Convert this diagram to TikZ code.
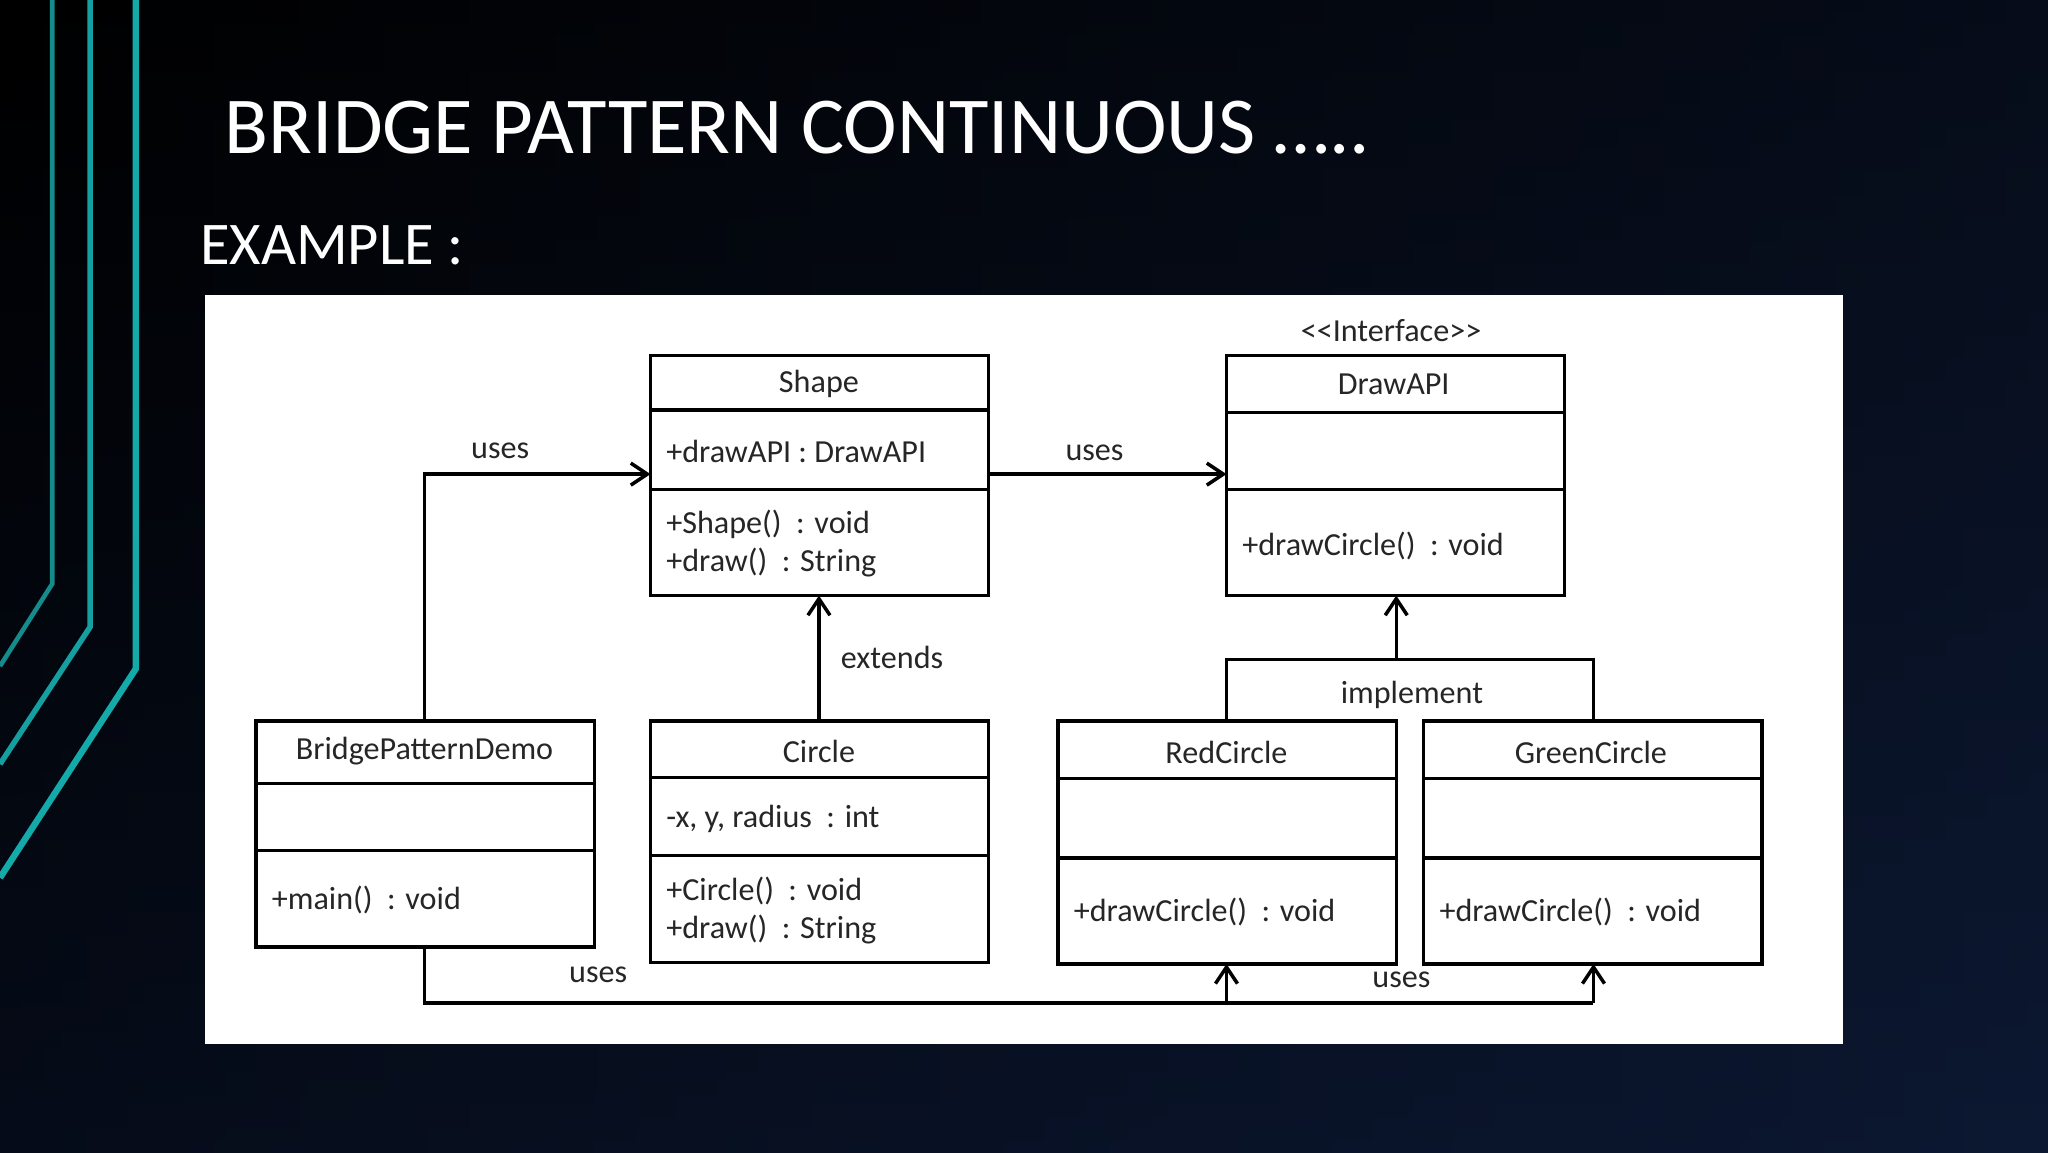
\documentclass[tikz,border=0pt]{standalone}
\usepackage{fontspec}
\setmainfont{Carlito}
\usetikzlibrary{arrows.meta}
\definecolor{navy}{RGB}{12,24,50}
\definecolor{tealA}{RGB}{20,140,140}
\definecolor{tealB}{RGB}{20,160,160}
\definecolor{tealC}{RGB}{20,170,170}
\begin{document}
\begin{tikzpicture}[x=0.5mm,y=-0.5mm,
  cls/.style={draw=black,line width=3.6pt},
  conn/.style={draw=black,line width=3.8pt},
  arr/.style={conn,-{Straight Barb[length=18pt,width=24pt,line width=3.8pt]}},
  txt/.style={font=\fontsize{35pt}{42pt}\selectfont,text=black!85,inner sep=0pt},
  lt/.style={txt,anchor=west,align=left}]
\useasboundingbox (0,0) rectangle (1568,882);
\shade[top color=black,bottom color=navy] (0,0) rectangle (1568,882);
\shade[left color=black,right color=navy,opacity=0.5] (0,0) rectangle (1568,882);
% decorations
\draw[tealA,line width=5pt] (40,0) -- (40,447) -- (0,510);
\draw[tealB,line width=6pt] (69,0) -- (69,480) -- (0,585);
\draw[tealC,line width=7pt] (104,0) -- (104,512) -- (0,672);
\node[anchor=west,text=white,font=\fontsize{88pt}{90pt}\selectfont,inner sep=0pt] (title) at (172,98) {BRIDGE PATTERN CONTINUOUS …..};
\node[anchor=west,text=white,font=\fontsize{66pt}{70pt}\selectfont,inner sep=0pt] (ex) at (153,188) {EXAMPLE :};
\fill[white] (157,226) rectangle (1411,799);
% Shape
\draw[cls] (498,272) rectangle (757,456); \draw[cls] (498,314)--(757,314); \draw[cls] (498,375)--(757,375);
\node[txt] (shape) at (627,294) {Shape};
\node[lt] at (510,346) {+drawAPI : DrawAPI};
\node[lt] at (510,416) {+Shape()\ \ : void\\+draw()\ \ : String};
\coordinate (shL) at (498,363); \coordinate (shR) at (757,363); \coordinate (shB) at (627,456);
% DrawAPI
\draw[cls] (939,272) rectangle (1198,456); \draw[cls] (939,316)--(1198,316); \draw[cls] (939,375)--(1198,375);
\node[txt] (dapi) at (1067,294) {DrawAPI};
\node[txt] at (1065,253) {<{}<Interface>{}>};
\node[lt] at (951,418) {+drawCircle()\ \ : void};
\coordinate (daL) at (939,363); \coordinate (daB) at (1069,456);
% BridgePatternDemo
\draw[cls] (196,552) rectangle (455,725); \draw[cls] (196,600)--(455,600); \draw[cls] (196,651)--(455,651);
\node[txt] (bpd) at (325,575) {BridgePatternDemo};
\node[lt] at (208,689) {+main()\ \ : void};
\coordinate (bT) at (325,552); \coordinate (bB) at (325,725);
% Circle
\draw[cls] (498,552) rectangle (757,737); \draw[cls] (498,595)--(757,595); \draw[cls] (498,655)--(757,655);
\node[txt] (circ) at (627,575) {Circle};
\node[lt] at (510,627) {-x, y, radius\ \ : int};
\node[lt] at (510,697) {+Circle()\ \ : void\\+draw()\ \ : String};
\coordinate (cT) at (627,552);
% RedCircle
\draw[cls] (810,552) rectangle (1069,738); \draw[cls] (810,596)--(1069,596); \draw[cls] (810,657)--(1069,657);
\node[txt] (red) at (939,576) {RedCircle};
\node[lt] at (822,698) {+drawCircle()\ \ : void};
\coordinate (rT) at (939,552); \coordinate (rB) at (939,738);
% GreenCircle
\draw[cls] (1090,552) rectangle (1349,738); \draw[cls] (1090,596)--(1349,596); \draw[cls] (1090,657)--(1349,657);
\node[txt] (green) at (1218,576) {GreenCircle};
\node[lt] at (1102,698) {+drawCircle()\ \ : void};
\coordinate (gT) at (1220,552); \coordinate (gB) at (1220,738);
% connectors
\draw[arr] (bT) |- (shL);
\node[txt] at (383,345) {uses};
\draw[arr] (shR) -- (daL);
\node[txt] at (838,347) {uses};
\draw[arr] (cT) -- (shB);
\node[txt] at (683,503) {extends};
\coordinate (impL) at (939,505); \coordinate (impR) at (1220,505); \coordinate (impM) at (1069,505);
\draw[conn] (rT) -- (impL) -- (impR) -- (gT);
\draw[arr] (impM) -- (daB);
\node[txt] at (1081,532) {implement};
\coordinate (bot1) at (939,768); \coordinate (bot2) at (1220,768);
\draw[conn] (bB) |- (bot2);
\draw[arr] (bot1) -- (rB);
\draw[arr] (bot2) -- (gB);
\node[txt] at (458,746) {uses};
\node[txt] at (1073,750) {uses};
\end{tikzpicture}
\end{document}
